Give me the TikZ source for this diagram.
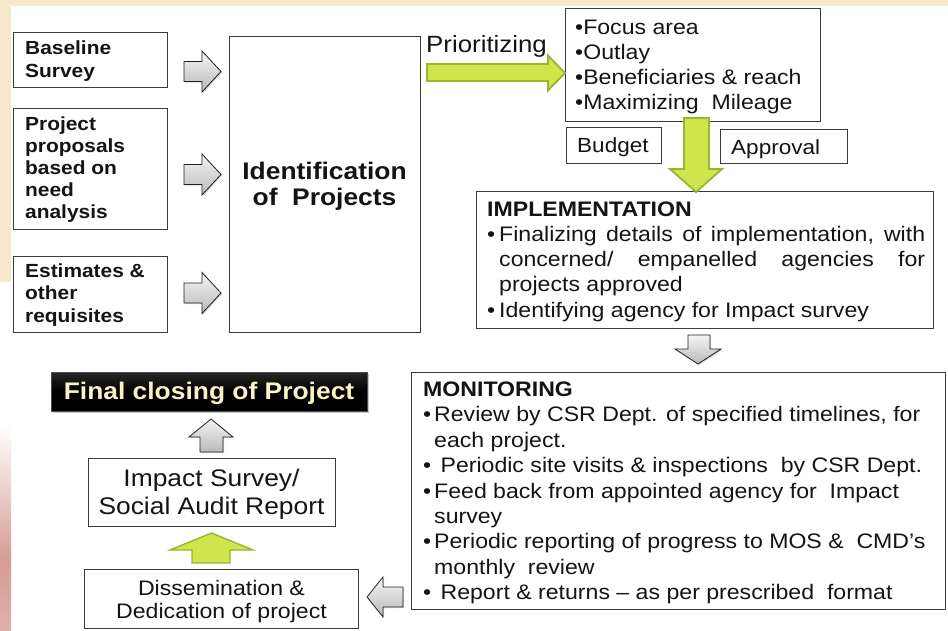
\documentclass[tikz,border=0pt]{standalone}
\usepackage{fontspec}
\setmainfont{Liberation Sans}[FakeStretch=1.1]
\usetikzlibrary{shadows}
\definecolor{beige}{RGB}{246,232,202}
\definecolor{pinkbg}{RGB}{214,156,150}
\definecolor{boxline}{RGB}{60,60,60}
\definecolor{txt}{RGB}{20,20,20}
\definecolor{gfill}{RGB}{208,228,76}
\definecolor{gline}{RGB}{150,182,52}
\definecolor{cream}{RGB}{248,242,196}
\newcommand\LL[1]{\hbox{#1}}
\newcommand\CC[1]{\hbox to 0pt{\hss#1\hss}}
\newcommand\bul[1]{\hbox to #1{•\hss}}
\tikzset{
  box/.style={draw=boxline, line width=1.1pt, fill=white, anchor=north west, inner sep=0pt},
  garrow/.style={draw=gray!25!black, line width=0.8pt, top color=gray!8, bottom color=gray!55,
    drop shadow={opacity=0.3, shadow xshift=1.2pt, shadow yshift=-1.2pt}},
  grarrow/.style={draw=gline, line width=1.8pt, fill=gfill, line join=miter},
  tx/.style={inner sep=0pt, text=txt, anchor=base west},
  txc/.style={inner sep=0pt, text=txt, anchor=base},
}
\begin{document}
\begin{tikzpicture}[x=1pt, y=-1pt]
% background
\useasboundingbox (0,0) rectangle (948,630);
\fill[white] (0,0) rectangle (948,630);
\fill[beige] (0,0) rectangle (948,6);
\fill[beige] (0,0) rectangle (11,282);
\shade[top color=white, bottom color=pinkbg] (0,425) rectangle (11,560);
\shade[top color=pinkbg, bottom color=pinkbg!80!white] (0,560) rectangle (11,630);

% boxes
\node[box, minimum width=154pt, minimum height=55pt] (bs) at (13,32) {};
\node[box, minimum width=154pt, minimum height=121pt] (pp) at (13,108) {};
\node[box, minimum width=154pt, minimum height=76pt] (es) at (13,256) {};
\node[box, minimum width=191pt, minimum height=296pt] (id) at (229,36) {};
\node[box, minimum width=255pt, minimum height=113pt] (fa) at (565,8) {};
\node[box, minimum width=95pt, minimum height=36pt] (bu) at (566,127) {};
\node[box, minimum width=127pt, minimum height=34pt] (ap) at (720,129) {};
\node[box, minimum width=457pt, minimum height=137pt] (im) at (476,191) {};
\node[box, minimum width=534pt, minimum height=237pt] (mo) at (411,372) {};
\node[box, minimum width=247pt, minimum height=68pt] (ia) at (88,458) {};
\node[box, minimum width=274pt, minimum height=59pt] (di) at (84,569) {};
\node[anchor=north west, inner sep=0pt, minimum width=316pt, minimum height=39pt,
  top color=black!85, bottom color=black, middle color=black, draw=black!70,
  drop shadow={opacity=0.45, shadow xshift=2pt, shadow yshift=-2pt}] (fc) at (51,372) {};

% grey block arrows
\draw[garrow, shift={(184,71.5)}] (0,-10) -- (18,-10) -- (18,-20.5) -- (37,0) -- (18,20.5) -- (18,10) -- (0,10) -- cycle;
\draw[garrow, shift={(184,174.5)}] (0,-10) -- (18,-10) -- (18,-20.5) -- (37,0) -- (18,20.5) -- (18,10) -- (0,10) -- cycle;
\draw[garrow, shift={(184,293)}] (0,-10) -- (18,-10) -- (18,-20.5) -- (37,0) -- (18,20.5) -- (18,10) -- (0,10) -- cycle;
\draw[garrow] (688,335) -- (710,335) -- (710,349) -- (721,349) -- (698,364) -- (675,349) -- (688,349) -- cycle;
\draw[garrow] (200,452) -- (200,437) -- (189,437) -- (211,419) -- (233,437) -- (223,437) -- (223,452) -- cycle;
\draw[garrow] (403,587) -- (383,587) -- (383,577) -- (367,597) -- (383,617) -- (383,607) -- (403,607) -- cycle;

% green block arrows
\draw[grarrow] (427,64) -- (548,64) -- (548,55.5) -- (565,73) -- (548,90.5) -- (548,81) -- (427,81) -- cycle;
\draw[grarrow] (684,118) -- (709,118) -- (709,169) -- (722,169) -- (696,192) -- (670,169) -- (684,169) -- cycle;
\draw[grarrow, line width=1.4pt] (192,563) -- (192,550) -- (170,550) -- (211.5,533) -- (253,550) -- (230,550) -- (230,563) -- cycle;

% texts
\node[tx, font=\fontsize{19}{23}\selectfont\bfseries] (bst) at (25,54)
  {\vtop{\LL{Baseline}\LL{Survey}}};
\node[tx, font=\fontsize{19}{22}\selectfont\bfseries] (ppt) at (25,130)
  {\vtop{\LL{Project}\LL{proposals}\LL{based on}\LL{need}\LL{analysis}}};
\node[tx, font=\fontsize{19}{22.5}\selectfont\bfseries] (est) at (25,277)
  {\vtop{\LL{Estimates \&}\LL{other}\LL{requisites}}};
\node[txc, font=\fontsize{24}{26}\selectfont\bfseries] (idt) at (324.5,179)
  {\vtop{\CC{Identification}\CC{of\ \ Projects}}};
\node[tx, font=\fontsize{23.5}{26}\selectfont] (pr) at (426,52) {Prioritizing};
\node[tx, font=\fontsize{21}{25.3}\selectfont] (fat) at (575,34)
  {\vtop{\LL{•Focus area}\LL{•Outlay}\LL{•Beneficiaries \& reach}\LL{•Maximizing\ \ Mileage}}};
\node[tx, font=\fontsize{20.5}{24}\selectfont] (but) at (577,152) {Budget};
\node[tx, font=\fontsize{20.5}{24}\selectfont] (apt) at (731,154) {Approval};
\node[tx, font=\fontsize{21}{25.3}\selectfont] (imt) at (487,216)
  {\vtop{\LL{\bfseries IMPLEMENTATION}
   \LL{\bul{12pt}\hbox to 426pt{Finalizing details of implementation, with}}
   \LL{\kern12pt\hbox to 426pt{concerned/ empanelled agencies for}}
   \LL{\kern12pt projects approved}
   \LL{\bul{12pt}Identifying agency for Impact survey}}};
\node[tx, font=\fontsize{21}{25.4}\selectfont] (mot) at (423,396.5)
  {\vtop{\LL{\bfseries MONITORING}
   \LL{\bul{11pt}Review by CSR Dept. of specified timelines, for}
   \LL{\kern11pt each project.}
   \LL{\bul{11pt} Periodic site visits \& inspections\ \ by CSR Dept.}
   \LL{\bul{11pt}Feed back from appointed agency for\ \ Impact}
   \LL{\kern11pt survey}
   \LL{\bul{11pt}Periodic reporting of progress to MOS \&\ \ CMD’s}
   \LL{\kern11pt monthly\ \ review}
   \LL{\bul{11pt} Report \& returns – as per prescribed\ \ format}}};
\node[txc, text=cream, font=\fontsize{24}{26}\selectfont\bfseries] (fct) at (209,399) {Final closing of Project};
\node[txc, font=\fontsize{24}{28}\selectfont] (iat) at (211.5,486)
  {\vtop{\CC{Impact Survey/}\CC{Social Audit Report}}};
\node[txc, font=\fontsize{21}{23}\selectfont] (dit) at (221.5,595)
  {\vtop{\CC{Dissemination \&}\CC{Dedication of project}}};
\end{tikzpicture}
\end{document}
